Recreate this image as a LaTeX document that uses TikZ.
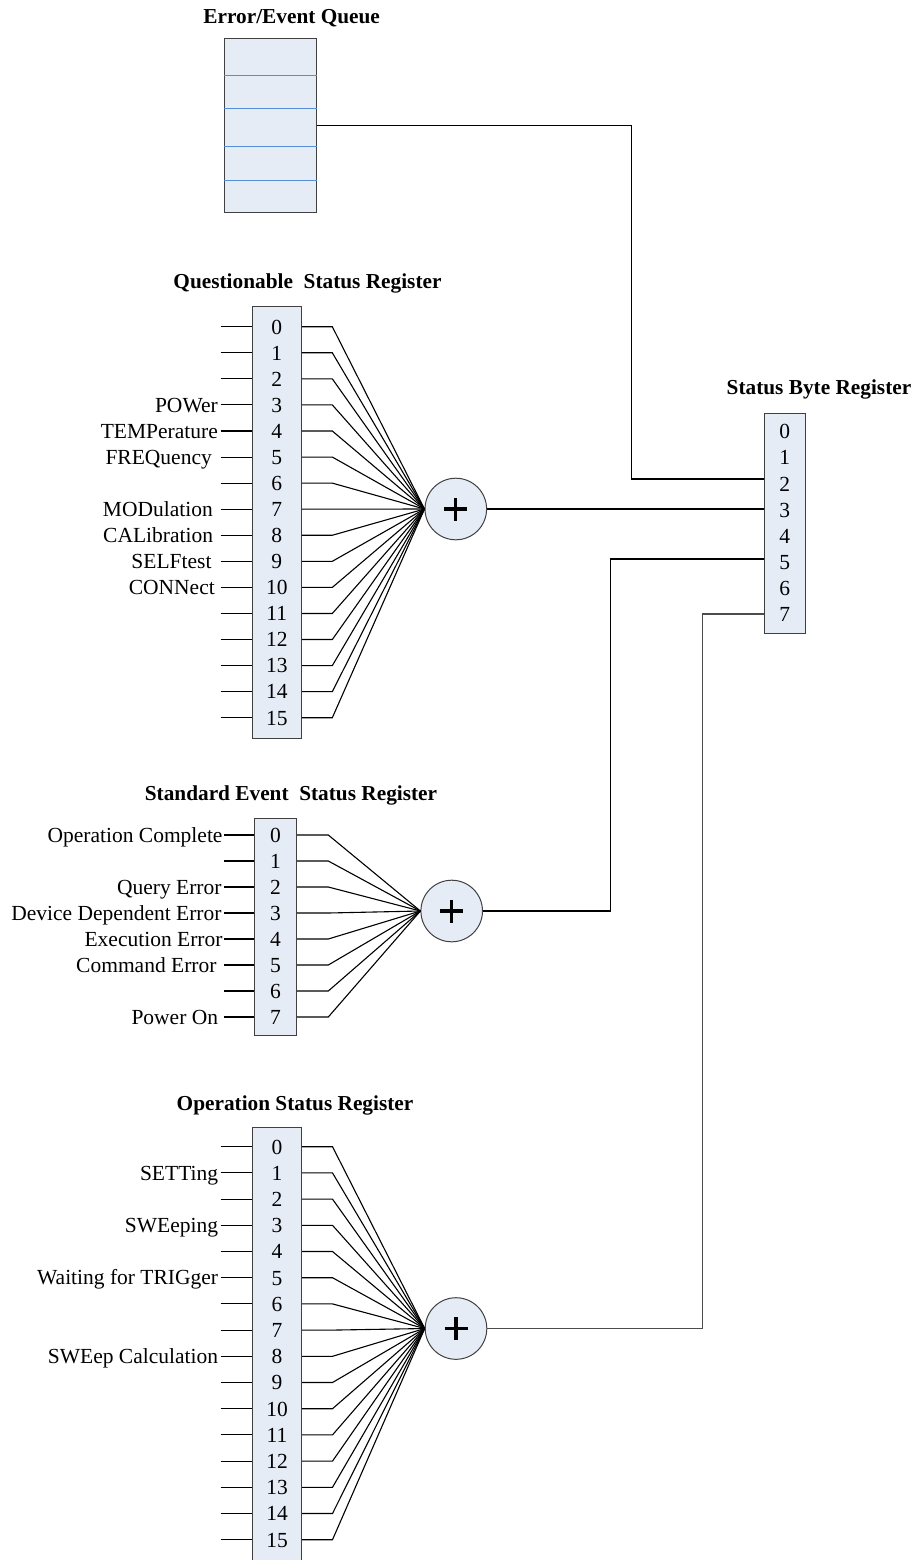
\documentclass[tikz,border=0pt]{standalone}
\usepackage{fontspec}
\setmainfont{Liberation Serif}
\definecolor{regfill}{RGB}{230,236,246}
\definecolor{boxgray}{RGB}{64,64,64}
\definecolor{qblue}{RGB}{85,142,213}
\newcommand\dfs{\fontsize{21.5}{24}\selectfont}
\newcommand\tfs{\fontsize{21.3}{24}\selectfont\bfseries}
\begin{document}
\begin{tikzpicture}[x=1pt,y=-1pt,
  regbox/.style={draw=boxgray, fill=regfill, line width=1pt, inner sep=0pt},
  wire/.style={draw=black, line width=1.1pt},
  qline/.style={draw=qblue, line width=1pt},
  lbl/.style={font=\dfs, inner sep=0pt, anchor=base east},
  dig/.style={font=\dfs, inner sep=0pt, anchor=base},
  ttl/.style={font=\tfs, inner sep=0pt, anchor=base},
  sumc/.style={circle, draw=boxgray, fill=regfill, line width=1pt, minimum size=61.6pt, inner sep=0pt},
  plusmark/.style={draw=black, line width=3.2pt}]
\useasboundingbox (0,0) rectangle (910,1560);

% ---------- Error/Event Queue ----------
\node[ttl] (tq) at (291.7,23.3) {Error/Event Queue};
\node[regbox, minimum width=92.4pt, minimum height=174pt] (EQ) at (270.5,125.3) {};
\foreach \yy in {75.3,109,146,180.3}
  \draw[qline] (EQ.west |- 0,\yy) -- (EQ.east |- 0,\yy);

% ---------- Status Byte Register ----------
\node[ttl] (tsb) at (819,394) {Status Byte Register};
\node[regbox, minimum width=40.7pt, minimum height=220pt] (SB) at (784.65,523) {};
\foreach \k in {0,...,7}
  \node[dig] (sb\k) at (784.65,{431.5+26.1*\k+7.3}) {\k};
\coordinate (sbin2) at (764.3,479);
\coordinate (sbin3) at (764.3,509);
\coordinate (sbin5) at (764.3,559);
\coordinate (sbin7) at (764.3,614);

% ---------- Questionable Status Register ----------
\node[ttl] (tqr) at (307.5,288.3) {Questionable\ \ Status Register};
\node[regbox, minimum width=49pt, minimum height=432.7pt] (QR) at (276.8,522.35) {};
\node[sumc] (QS) at (455.8,509) {};
\draw[plusmark] ([xshift=-11.5pt]QS.center) -- ([xshift=11.5pt]QS.center);
\draw[plusmark] ([yshift=-11.5pt]QS.center) -- ([yshift=11.5pt]QS.center);
\foreach \k in {0,...,15}{
  \pgfmathsetmacro\yy{326.7+26.07*\k}
  \node[dig] (q\k) at (276.8,{\yy+7.3}) {\k};
  \coordinate (qi\k) at (220.7,\yy);
  \coordinate (qo\k) at (332.3,\yy);
  \draw[wire] (qi\k) -- (qi\k -| QR.west);
  \draw[wire] (qo\k -| QR.east) -- (qo\k) -- (QS.west);
}
\foreach \k/\t/\x in {3/POWer/218, 4/TEMPerature/218, 5/FREQuency/212, 7/MODulation/213,
    8/CALibration/213.3, 9/SELFtest/211.7, 10/CONNect/215}
  \node[lbl] (ql\k) at (\x,{326.7+26.07*\k+7.2}) {\t};

% ---------- Standard Event Status Register ----------
\node[ttl] (tse) at (291,800.7) {Standard Event\ \ Status Register};
\node[regbox, minimum width=42.4pt, minimum height=216.7pt] (SR) at (275.5,926.65) {};
\node[sumc] (SS) at (451.7,911) {};
\draw[plusmark] ([xshift=-11.5pt]SS.center) -- ([xshift=11.5pt]SS.center);
\draw[plusmark] ([yshift=-11.5pt]SS.center) -- ([yshift=11.5pt]SS.center);
\foreach \k in {0,...,7}{
  \pgfmathsetmacro\yy{835+26*\k}
  \node[dig] (s\k) at (275.5,{\yy+7.3}) {\k};
  \coordinate (si\k) at (224,\yy);
  \coordinate (so\k) at (328.3,\yy);
  \draw[wire] (si\k) -- (si\k -| SR.west);
  \draw[wire] (so\k -| SR.east) -- (so\k) -- (SS.west);
}
\foreach \k/\t/\x in {0/Operation Complete/222.7, 2/Query Error/221.7,
    3/Device Dependent Error/221.7, 4/Execution Error/222.7,
    5/Command Error/216.7, 7/Power On/218.3}
  \node[lbl] (sl\k) at (\x,{835+26*\k+7.2}) {\t};

% ---------- Operation Status Register ----------
\node[ttl] (tor) at (295,1110.7) {Operation Status Register};
\node[regbox, minimum width=49pt, minimum height=434.7pt] (OR) at (277,1344.65) {};
\node[sumc] (OS) at (456,1328.5) {};
\draw[plusmark] ([xshift=-11.5pt]OS.center) -- ([xshift=11.5pt]OS.center);
\draw[plusmark] ([yshift=-11.5pt]OS.center) -- ([yshift=11.5pt]OS.center);
\foreach \k in {0,...,15}{
  \pgfmathsetmacro\yy{1146.7+26.2*\k}
  \node[dig] (o\k) at (277,{\yy+7.3}) {\k};
  \coordinate (oi\k) at (220.7,\yy);
  \coordinate (oo\k) at (332.5,\yy);
  \draw[wire] (oi\k) -- (oi\k -| OR.west);
  \draw[wire] (oo\k -| OR.east) -- (oo\k) -- (OS.west);
}
\foreach \k/\t in {1/SETTing, 3/SWEeping, 5/Waiting for TRIGger, 8/SWEep Calculation}
  \node[lbl] (ol\k) at (218.3,{1146.7+26.2*\k+7.2}) {\t};

% ---------- connections to Status Byte ----------
\draw[wire] (EQ.east) -- (631.7,125.3) -- (631.7,479) -- (sbin2);
\draw[wire] (QS.east) -- (sbin3);
\draw[wire] (SS.east) -- (610.5,911) -- (610.5,559) -- (sbin5);
\draw[wire, draw=black!70] (OS.east) -- (702.5,1328.5) -- (702.5,614) -- (sbin7);
\end{tikzpicture}
\end{document}
